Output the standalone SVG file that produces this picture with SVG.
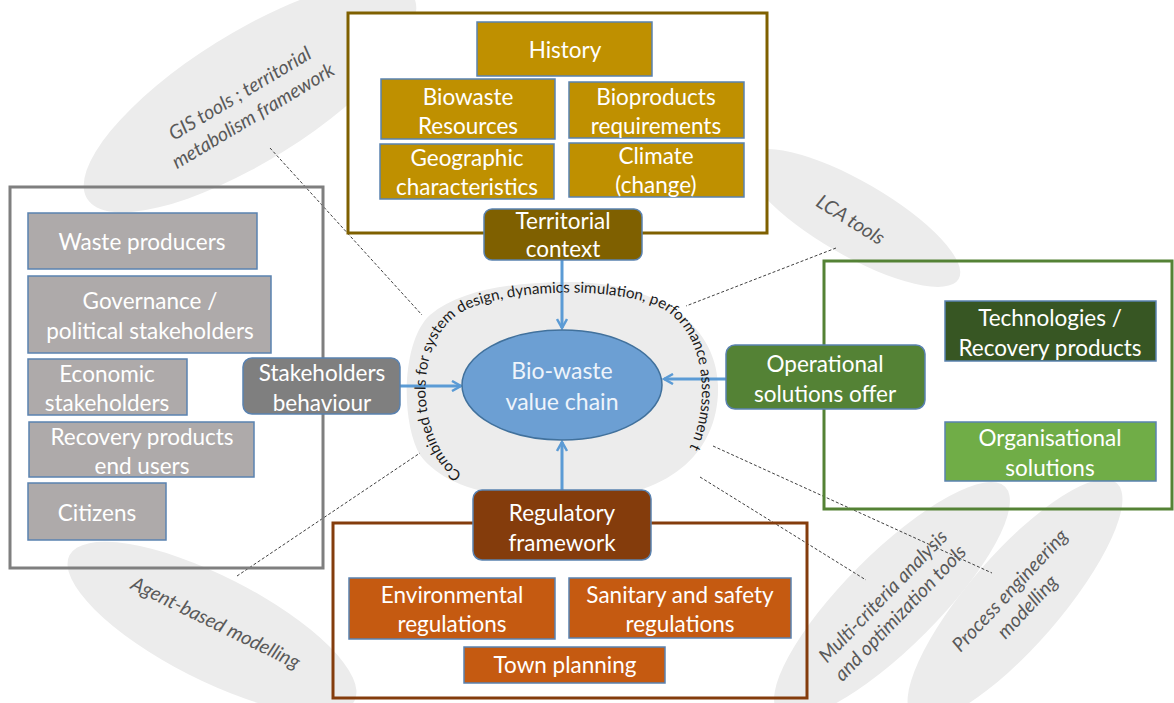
<svg xmlns="http://www.w3.org/2000/svg" width="1174" height="703" viewBox="0 0 1174 703">
<defs>
<style>
.tool{fill:#ececec}
.tt{font-family:Lato,"Liberation Sans",sans-serif;font-style:italic;font-size:19.5px;fill:#595959;text-anchor:middle;dominant-baseline:central}
.bx{stroke:#5a82b0;stroke-width:1.5}
.lbl{font-family:Lato,"Liberation Sans",sans-serif;font-size:22.5px;fill:#ffffff;text-anchor:middle;dominant-baseline:central}
.dash{stroke:#404040;stroke-width:1;stroke-dasharray:3 2;fill:none}
.arr{stroke:#5b9bd5;stroke-width:3;fill:none;marker-end:url(#ah)}
.gold{fill:#bf9000}
.gray{fill:#aeaaaa}
.rust{fill:#c55a11}
</style>
<marker id="ah" viewBox="0 0 12 12" refX="10" refY="6" markerWidth="12" markerHeight="12" markerUnits="userSpaceOnUse" orient="auto">
<path d="M1,1 L10,6 L1,11" fill="none" stroke="#5b9bd5" stroke-width="2.5"/>
</marker>
</defs>
<rect width="1174" height="703" fill="#ffffff"/>

<g id="tool-ellipses">
<ellipse class="tool" cx="250" cy="97" rx="192" ry="64" transform="rotate(-32 250 97)"/>
<ellipse class="tool" cx="853" cy="218" rx="122" ry="37" transform="rotate(30 853 218)"/>
<ellipse class="tool" cx="212" cy="628" rx="160" ry="52" transform="rotate(27 212 628)"/>
<ellipse class="tool" cx="892" cy="600" rx="160" ry="47" transform="rotate(-45 892 600)"/>
<ellipse class="tool" cx="1015" cy="600" rx="155" ry="46" transform="rotate(-49 1015 600)"/>
<path class="tool" d="M562,282 C650,280 716,320 718,385 C720,455 665,500 575,498 C495,500 445,488 420,455 C400,420 402,340 430,315 C460,290 510,283 562,282 Z"/>
</g>

<g id="connectors">
<line class="dash" x1="270" y1="148" x2="422" y2="315"/>
<line class="dash" x1="836" y1="248" x2="686" y2="306"/>
<line class="dash" x1="237" y1="576" x2="420" y2="453"/>
<line class="dash" x1="700" y1="477" x2="866" y2="580"/>
<line class="dash" x1="713" y1="446" x2="992" y2="573"/>
<line class="arr" x1="562" y1="260" x2="562" y2="328"/>
<line class="arr" x1="400" y1="386" x2="461" y2="386"/>
<line class="arr" x1="726" y1="379" x2="664" y2="379"/>
<line class="arr" x1="562" y1="490" x2="562" y2="442"/>
</g>

<g id="tool-labels">
<g transform="translate(246,104) rotate(-31)">
<text class="tt" x="0" y="-13">GIS tools ; territorial</text>
<text class="tt" x="0" y="13">metabolism framework</text>
</g>
<text class="tt" transform="translate(851,219) rotate(32)">LCA tools</text>
<text class="tt" transform="translate(216,622) rotate(26)">Agent-based modelling</text>
<g transform="translate(891,604) rotate(-46)">
<text class="tt" x="0" y="-12">Multi-criteria analysis</text>
<text class="tt" x="0" y="12">and optimization tools</text>
</g>
<g transform="translate(1018,598) rotate(-47)">
<text class="tt" x="0" y="-12">Process engineering</text>
<text class="tt" x="0" y="12">modelling</text>
</g>
<path id="arcpath" d="M462,474 C414,440 410,332 470,308 C520,288 610,288 655,305 C715,330 714,432 672,472" fill="none"/>
<text font-family="Lato,'Liberation Sans',sans-serif" font-size="15.2" fill="#1a1a1a"><textPath href="#arcpath">Combined tools for system design, dynamics simulation, performance assessmen t</textPath></text>
</g>

<g id="territorial-panel">
<rect x="348" y="13" width="419" height="220" fill="#ffffff" stroke="#7f6000" stroke-width="3"/>
<g id="history"><rect class="bx gold" x="477" y="22" width="175" height="54"/><text class="lbl" x="565" y="49">History</text></g>
<g id="biowaste-resources"><rect class="bx gold" x="381" y="79" width="174" height="60"/><text class="lbl" x="468" y="96">Biowaste</text><text class="lbl" x="468" y="125">Resources</text></g>
<g id="bioproducts"><rect class="bx gold" x="569" y="82" width="175" height="56"/><text class="lbl" x="656" y="96">Bioproducts</text><text class="lbl" x="656" y="125">requirements</text></g>
<g id="geographic"><rect class="bx gold" x="380" y="144" width="174" height="55"/><text class="lbl" x="467" y="157">Geographic</text><text class="lbl" x="467" y="186">characteristics</text></g>
<g id="climate"><rect class="bx gold" x="569" y="143" width="175" height="54"/><text class="lbl" x="656" y="155">Climate</text><text class="lbl" x="656" y="184">(change)</text></g>
</g>
<g id="territorial-context"><rect class="bx" x="484" y="209" width="158" height="51" rx="8" fill="#7f6000"/><text class="lbl" x="563" y="220">Territorial</text><text class="lbl" x="563" y="248">context</text></g>

<g id="stakeholders-panel">
<rect x="10" y="187" width="313" height="381" fill="none" stroke="#7f7f7f" stroke-width="3"/>
<g id="waste-producers"><rect class="bx gray" x="28" y="213" width="229" height="56"/><text class="lbl" x="142" y="241">Waste producers</text></g>
<g id="governance"><rect class="bx gray" x="28" y="276" width="243" height="77"/><text class="lbl" x="150" y="300">Governance /</text><text class="lbl" x="150" y="330">political stakeholders</text></g>
<g id="economic"><rect class="bx gray" x="28" y="359" width="159" height="56"/><text class="lbl" x="107" y="373">Economic</text><text class="lbl" x="107" y="402">stakeholders</text></g>
<g id="end-users"><rect class="bx gray" x="29" y="422" width="225" height="55"/><text class="lbl" x="142" y="436">Recovery products</text><text class="lbl" x="142" y="465">end users</text></g>
<g id="citizens"><rect class="bx gray" x="28" y="483" width="138" height="57"/><text class="lbl" x="97" y="512">Citizens</text></g>
</g>
<g id="stakeholders-behaviour"><rect class="bx" x="243" y="358" width="157" height="56" rx="9" fill="#7f7f7f"/><text class="lbl" x="322" y="372">Stakeholders</text><text class="lbl" x="322" y="402">behaviour</text></g>

<g id="operational-panel">
<rect x="824" y="261" width="348" height="248" fill="none" stroke="#548235" stroke-width="3"/>
<g id="technologies"><rect class="bx" x="945" y="301" width="211" height="60" fill="#375623"/><text class="lbl" x="1050" y="317">Technologies /</text><text class="lbl" x="1050" y="347">Recovery products</text></g>
<g id="organisational"><rect class="bx" x="945" y="422" width="211" height="59" fill="#70ad47"/><text class="lbl" x="1050" y="437">Organisational</text><text class="lbl" x="1050" y="467">solutions</text></g>
</g>
<g id="operational-offer"><rect class="bx" x="726" y="345" width="199" height="64" rx="9" fill="#548235"/><text class="lbl" x="825" y="363">Operational</text><text class="lbl" x="825" y="393">solutions offer</text></g>

<g id="regulatory-panel">
<rect x="333" y="523" width="474" height="175" fill="none" stroke="#843c0c" stroke-width="3"/>
<g id="environmental"><rect class="bx rust" x="349" y="578" width="206" height="61"/><text class="lbl" x="452" y="594">Environmental</text><text class="lbl" x="452" y="623">regulations</text></g>
<g id="sanitary"><rect class="bx rust" x="569" y="578" width="222" height="60"/><text class="lbl" x="680" y="594">Sanitary and safety</text><text class="lbl" x="680" y="623">regulations</text></g>
<g id="town-planning"><rect class="bx rust" x="464" y="647" width="201" height="36"/><text class="lbl" x="565" y="664">Town planning</text></g>
</g>
<g id="regulatory-framework"><rect class="bx" x="473" y="490" width="178" height="70" rx="9" fill="#843c0c"/><text class="lbl" x="562" y="512">Regulatory</text><text class="lbl" x="562" y="542">framework</text></g>

<g id="bio-waste-value-chain">
<ellipse cx="562" cy="385" rx="100" ry="55" fill="#6c9fd3" stroke="#41719c" stroke-width="1.5"/>
<text class="lbl" x="562" y="370" style="font-size:23px;fill:#eef4fb">Bio-waste</text>
<text class="lbl" x="562" y="401" style="font-size:23px;fill:#eef4fb">value chain</text>
</g>
</svg>
